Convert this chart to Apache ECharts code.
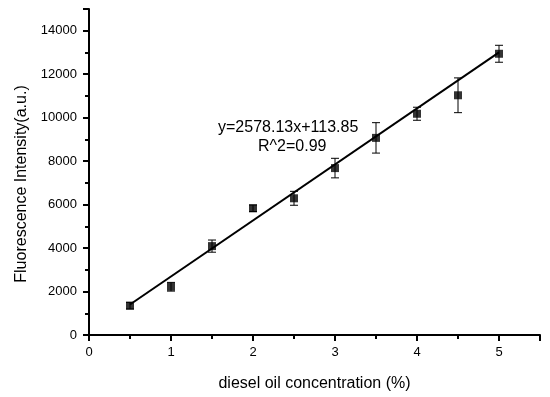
<!DOCTYPE html>
<html><head><meta charset="utf-8">
<script src="https://cdn.jsdelivr.net/npm/echarts@6/dist/echarts.min.js"></script>
<style>html,body{margin:0;padding:0;background:#fff}#c{width:550px;height:397px}</style>
</head><body><div id="c"></div>
<script>
const concentration = [0.5, 1, 1.5, 2, 2.5, 3, 3.5, 4, 4.5, 5];
const intensity = [1350, 2220, 4090, 5830, 6290, 7680, 9070, 10180, 11030, 12940];
const errors = [150, 200, 280, 150, 320, 450, 700, 300, 800, 390];
const slope = 2578.13, intercept = 113.85;
const fitX = [0.5, 5];
const fitLine = fitX.map(x => [x, slope * x + intercept]);
const equationText = ['y=2578.13x+113.85', 'R^2=0.99'];

const font = 'Liberation Sans, Arial, sans-serif';
const chart = echarts.init(document.getElementById('c'));
chart.setOption({
  animation: false,
  grid: {left: 89, top: 9, right: 10, bottom: 58},
  xAxis: {
    type: 'value', min: 0, max: 5.5, interval: 1,
    name: 'diesel oil concentration (%)', nameLocation: 'middle', nameGap: 41,
    nameTextStyle: {fontFamily: font, fontSize: 16, color: '#000'},
    axisLine: {lineStyle: {color: '#000', width: 2}},
    axisTick: {length: 6, lineStyle: {color: '#000', width: 2}},
    minorTick: {show: true, splitNumber: 2, length: 4, lineStyle: {color: '#000', width: 2}},
    axisLabel: {fontFamily: font, fontSize: 13, color: '#000', margin: 11, showMaxLabel: false,
      formatter: v => String(v)},
    splitLine: {show: false}
  },
  yAxis: {
    type: 'value', min: 0, max: 15000, interval: 2000,
    name: 'Fluorescence Intensity(a.u.)', nameLocation: 'middle', nameGap: 56,
    nameTextStyle: {fontFamily: font, fontSize: 16, color: '#000', padding: [0, 24, 0, 0]},
    axisLine: {show: true, lineStyle: {color: '#000', width: 2}},
    axisTick: {show: true, length: 6, lineStyle: {color: '#000', width: 2}},
    minorTick: {show: true, splitNumber: 2, length: 4, lineStyle: {color: '#000', width: 2}},
    axisLabel: {fontFamily: font, fontSize: 13, color: '#000', margin: 12, showMaxLabel: false,
      formatter: v => String(v)},
    splitLine: {show: false}
  },
  series: [
    {
      type: 'line', data: fitLine, symbol: 'none',
      lineStyle: {color: '#000', width: 2}, z: 2
    },
    {
      type: 'custom', z: 3,
      data: concentration.map((x, i) => [x, intensity[i] - errors[i], intensity[i] + errors[i]]),
      renderItem: function (params, api) {
        const lo = api.coord([api.value(0), api.value(1)]);
        const hi = api.coord([api.value(0), api.value(2)]);
        const w = 4;
        const st = {stroke: '#000', lineWidth: 1};
        return {type: 'group', children: [
          {type: 'line', shape: {x1: lo[0], y1: lo[1], x2: hi[0], y2: hi[1]}, style: st},
          {type: 'line', shape: {x1: lo[0] - w, y1: lo[1], x2: lo[0] + w, y2: lo[1]}, style: st},
          {type: 'line', shape: {x1: hi[0] - w, y1: hi[1], x2: hi[0] + w, y2: hi[1]}, style: st}
        ]};
      }
    },
    {
      type: 'scatter', z: 4,
      data: concentration.map((x, i) => [x, intensity[i]]),
      symbol: 'rect', symbolSize: 8,
      itemStyle: {color: '#000'}
    }
  ],
  graphic: [
    {type: 'text', left: 218, top: 120, style: {text: equationText[0], font: '16px ' + font, fill: '#000'}},
    {type: 'text', left: 258, top: 139, style: {text: equationText[1], font: '16px ' + font, fill: '#000'}}
  ]
});
</script></body></html>
